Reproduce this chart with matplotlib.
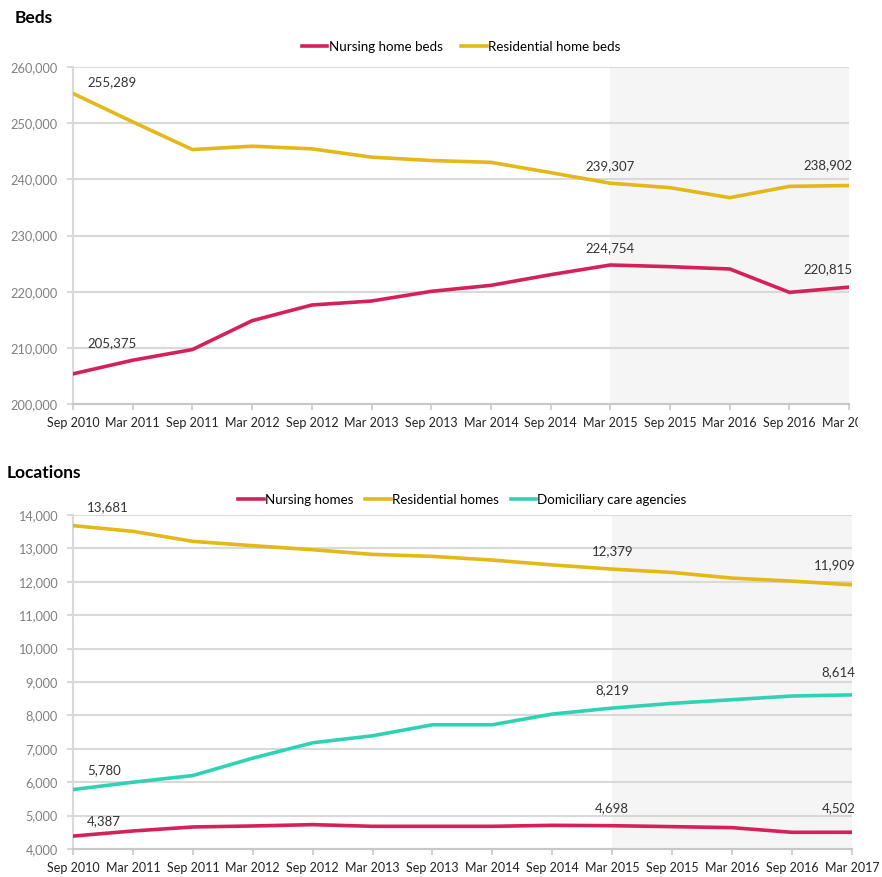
import matplotlib
matplotlib.use('Agg')
import matplotlib.pyplot as plt
from matplotlib.ticker import FuncFormatter
from matplotlib.transforms import Bbox, TransformedBbox

# ====================== data ======================
periods = ['Sep 2010', 'Mar 2011', 'Sep 2011', 'Mar 2012', 'Sep 2012', 'Mar 2013', 'Sep 2013',
           'Mar 2014', 'Sep 2014', 'Mar 2015', 'Sep 2015', 'Mar 2016', 'Sep 2016', 'Mar 2017']

nursing_beds = [205375, 207800, 209700, 214840, 217630, 218340, 220060,
                221130, 223030, 224754, 224450, 224040, 219880, 220815]
residential_beds = [255289, 250230, 245300, 245900, 245430, 243950, 243350,
                    243030, 241190, 239307, 238520, 236740, 238750, 238902]

nursing_homes = [4387, 4540, 4660, 4690, 4730, 4680, 4680,
                 4680, 4710, 4698, 4670, 4640, 4500, 4502]
residential_homes = [13681, 13510, 13210, 13080, 12960, 12820, 12760,
                     12650, 12505, 12379, 12280, 12110, 12020, 11909]
domiciliary = [5780, 6000, 6200, 6720, 7180, 7390, 7720,
               7720, 8040, 8219, 8360, 8470, 8580, 8614]

# ====================== style ======================
plt.rcParams['font.family'] = ['Lato', 'DejaVu Sans']
C_NURSING = '#d4215a'
C_RESID = '#e3b818'
C_DOMI = '#2fd3b3'
GRID = '#d9d9d9'
SHADE = '#f5f5f5'
SHADE_FROM = 9  # Mar 2015 onwards

fig = plt.figure(figsize=(8.82, 8.77), dpi=100)
ax1 = fig.add_axes([0.0828, 0.5393, 0.880, 0.3843])
ax2 = fig.add_axes([0.0828, 0.0319, 0.883, 0.3809])

x = list(range(len(periods)))
fmt = FuncFormatter(lambda v, p: f'{int(v):,}')


def style_axes(ax, ylo, yhi, step):
    ax.set_xlim(0, len(periods) - 1)
    ax.set_ylim(ylo, yhi)
    ax.set_yticks(range(ylo, yhi + 1, step))
    ax.yaxis.set_major_formatter(fmt)
    ax.set_xticks(x)
    ax.set_xticklabels(periods)
    ax.axvspan(SHADE_FROM, len(periods) - 1, color=SHADE, zorder=0, lw=0)
    ax.grid(axis='y', color=GRID, lw=1.5, zorder=1)
    ax.set_axisbelow(True)
    for s in ['top', 'right']:
        ax.spines[s].set_visible(False)
    ax.spines['left'].set_color(GRID)
    ax.spines['left'].set_linewidth(1.5)
    ax.spines['bottom'].set_color('#c8c8c8')
    ax.spines['bottom'].set_linewidth(1.5)
    ax.tick_params(axis='y', colors=GRID, length=4, width=1.5, labelcolor='#808080',
                   labelsize=9.2, pad=7)
    ax.tick_params(axis='x', colors='#c8c8c8', length=4, width=1.2, labelcolor='#222222',
                   labelsize=9.0, pad=5)


def label_points(ax, values, offsets):
    for i, dx, dy, ha in offsets:
        ax.annotate(f'{values[i]:,}', (i, values[i]), xytext=(dx, dy),
                    textcoords='offset pixels', ha=ha, va='center',
                    fontsize=9.5, color='#333333', zorder=5)


# ---------------- Beds ----------------
style_axes(ax1, 200000, 260000, 10000)
ax1.plot(x, nursing_beds, color=C_NURSING, lw=2.6, label='Nursing home beds', zorder=3)
ax1.plot(x, residential_beds, color=C_RESID, lw=2.6, label='Residential home beds', zorder=3)
label_points(ax1, nursing_beds, [(0, 14, 31, 'left'), (9, 0, 17, 'center'), (13, 3, 18, 'right')])
label_points(ax1, residential_beds, [(0, 14, 11, 'left'), (9, 0, 17, 'center'), (13, 3, 20, 'right')])
ax1.legend(loc='center', bbox_to_anchor=(0.5, 1.06), ncol=2, frameon=False,
           fontsize=9.6, handlelength=1.9, handletextpad=0.1, columnspacing=1.4)

# cut off the last tick label at the image edge, like the source screenshot
clip = TransformedBbox(Bbox([[0, 0], [858 / 882, 1]]), fig.transFigure)
last = ax1.get_xticklabels()[-1]
last.set_clip_box(clip)
last.set_clip_on(True)

# ---------------- Locations ----------------
style_axes(ax2, 4000, 14000, 1000)
ax2.plot(x, nursing_homes, color=C_NURSING, lw=2.6, label='Nursing homes', zorder=3)
ax2.plot(x, residential_homes, color=C_RESID, lw=2.6, label='Residential homes', zorder=3)
ax2.plot(x, domiciliary, color=C_DOMI, lw=2.6, label='Domiciliary care agencies', zorder=3)
label_points(ax2, nursing_homes, [(0, 14, 15, 'left'), (9, 0, 18, 'center'), (13, 4, 24, 'right')])
label_points(ax2, residential_homes, [(0, 14, 18, 'left'), (9, 0, 18, 'center'), (13, 4, 20, 'right')])
label_points(ax2, domiciliary, [(0, 14, 19, 'left'), (9, 0, 18, 'center'), (13, 4, 23, 'right')])
ax2.legend(loc='center', bbox_to_anchor=(0.5, 1.045), ncol=3, frameon=False,
           fontsize=9.6, handlelength=1.9, handletextpad=0.1, columnspacing=0.9)

# titles
fig.text(15 / 882, 1 - 18 / 877, 'Beds', fontsize=12.5, fontweight='bold', va='center', ha='left')
fig.text(7 / 882, 1 - 473 / 877, 'Locations', fontsize=12.5, fontweight='bold', va='center', ha='left')

fig.savefig('out.png', dpi=100)
